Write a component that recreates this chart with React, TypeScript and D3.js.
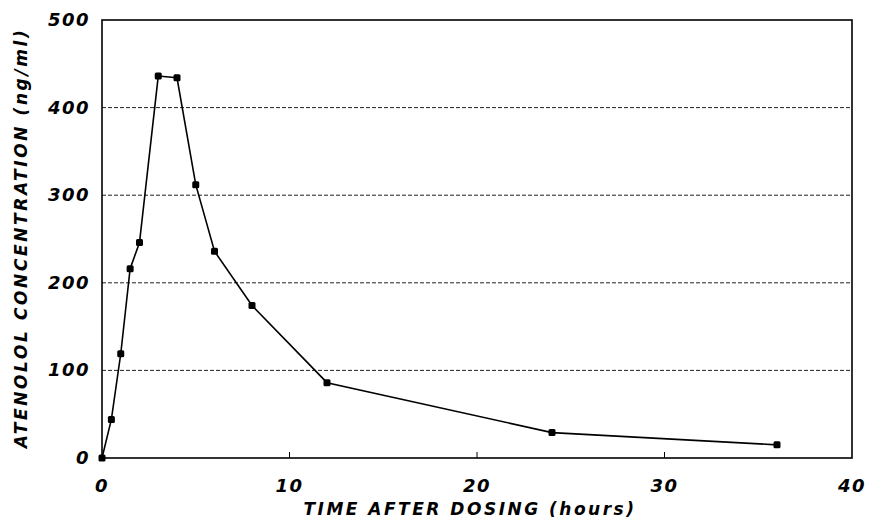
import React from "react";
import * as d3 from "d3";

const width = 870;
const height = 519;
const margin = { top: 20, right: 18, bottom: 61, left: 102 };

const hours = [0, 0.5, 1, 1.5, 2, 3, 4, 5, 6, 8, 12, 24, 36];
const conc = [0, 44, 119, 216, 246, 436, 434, 312, 236, 174, 86, 29, 15];
const xTicks = [0, 10, 20, 30, 40];
const yTicks = [0, 100, 200, 300, 400, 500];
const gridLines = [100, 200, 300, 400];

const font = "'DejaVu Sans', Verdana, sans-serif";

export default function App() {
  const x = d3
    .scaleLinear()
    .domain([0, 40])
    .range([margin.left, width - margin.right]);
  const y = d3
    .scaleLinear()
    .domain([0, 500])
    .range([height - margin.bottom, margin.top]);

  const points = hours.map((h, i) => [h, conc[i]] as [number, number]);
  const line = d3
    .line<[number, number]>()
    .x(d => x(d[0]))
    .y(d => y(d[1]));

  const x0 = x(0);
  const x1 = x(40);
  const y0 = y(0);
  const y1 = y(500);

  return (
    <svg
      width={width}
      height={height}
      style={{ position: "absolute", left: 0, top: 0, background: "#fff" }}
      fontFamily={font}
      fontWeight="bold"
      fontStyle="italic"
    >
      {gridLines.map(g => (
        <line
          key={g}
          x1={x0}
          x2={x1}
          y1={y(g)}
          y2={y(g)}
          stroke="#222"
          strokeWidth={1}
          strokeDasharray="4,2"
        />
      ))}
      <rect
        x={x0}
        y={y1}
        width={x1 - x0}
        height={y0 - y1}
        fill="none"
        stroke="#000"
        strokeWidth={1.6}
      />
      {xTicks.slice(1, -1).map(t => (
        <line key={t} x1={x(t)} x2={x(t)} y1={y0} y2={y0 - 6} stroke="#000" strokeWidth={1} />
      ))}
      {xTicks.map(t => (
        <text key={t} x={x(t)} y={y0 + 34} textAnchor="middle" fontSize={18} letterSpacing={1.5}>
          {t}
        </text>
      ))}
      {yTicks.map(t => (
        <text key={t} x={x0 - 12} y={y(t) + 6} textAnchor="end" fontSize={18} letterSpacing={1.5}>
          {t}
        </text>
      ))}
      <path d={line(points) || ""} fill="none" stroke="#000" strokeWidth={1.6} />
      {points.map((d, i) => (
        <rect
          key={i}
          x={x(d[0]) - 3.5}
          y={y(d[1]) - 3.5}
          width={7}
          height={7}
          rx={1.5}
          fill="#000"
        />
      ))}
      <text
        x={(x0 + x1) / 2 - 7}
        y={height - 4}
        textAnchor="middle"
        fontSize={17}
        letterSpacing={2.5}
      >
        TIME AFTER DOSING (hours)
      </text>
      <text
        transform={`translate(27, ${(y0 + y1) / 2 - 1}) rotate(-90)`}
        textAnchor="middle"
        fontSize={17}
        letterSpacing={2.6}
      >
        ATENOLOL CONCENTRATION (ng/ml)
      </text>
    </svg>
  );
}
